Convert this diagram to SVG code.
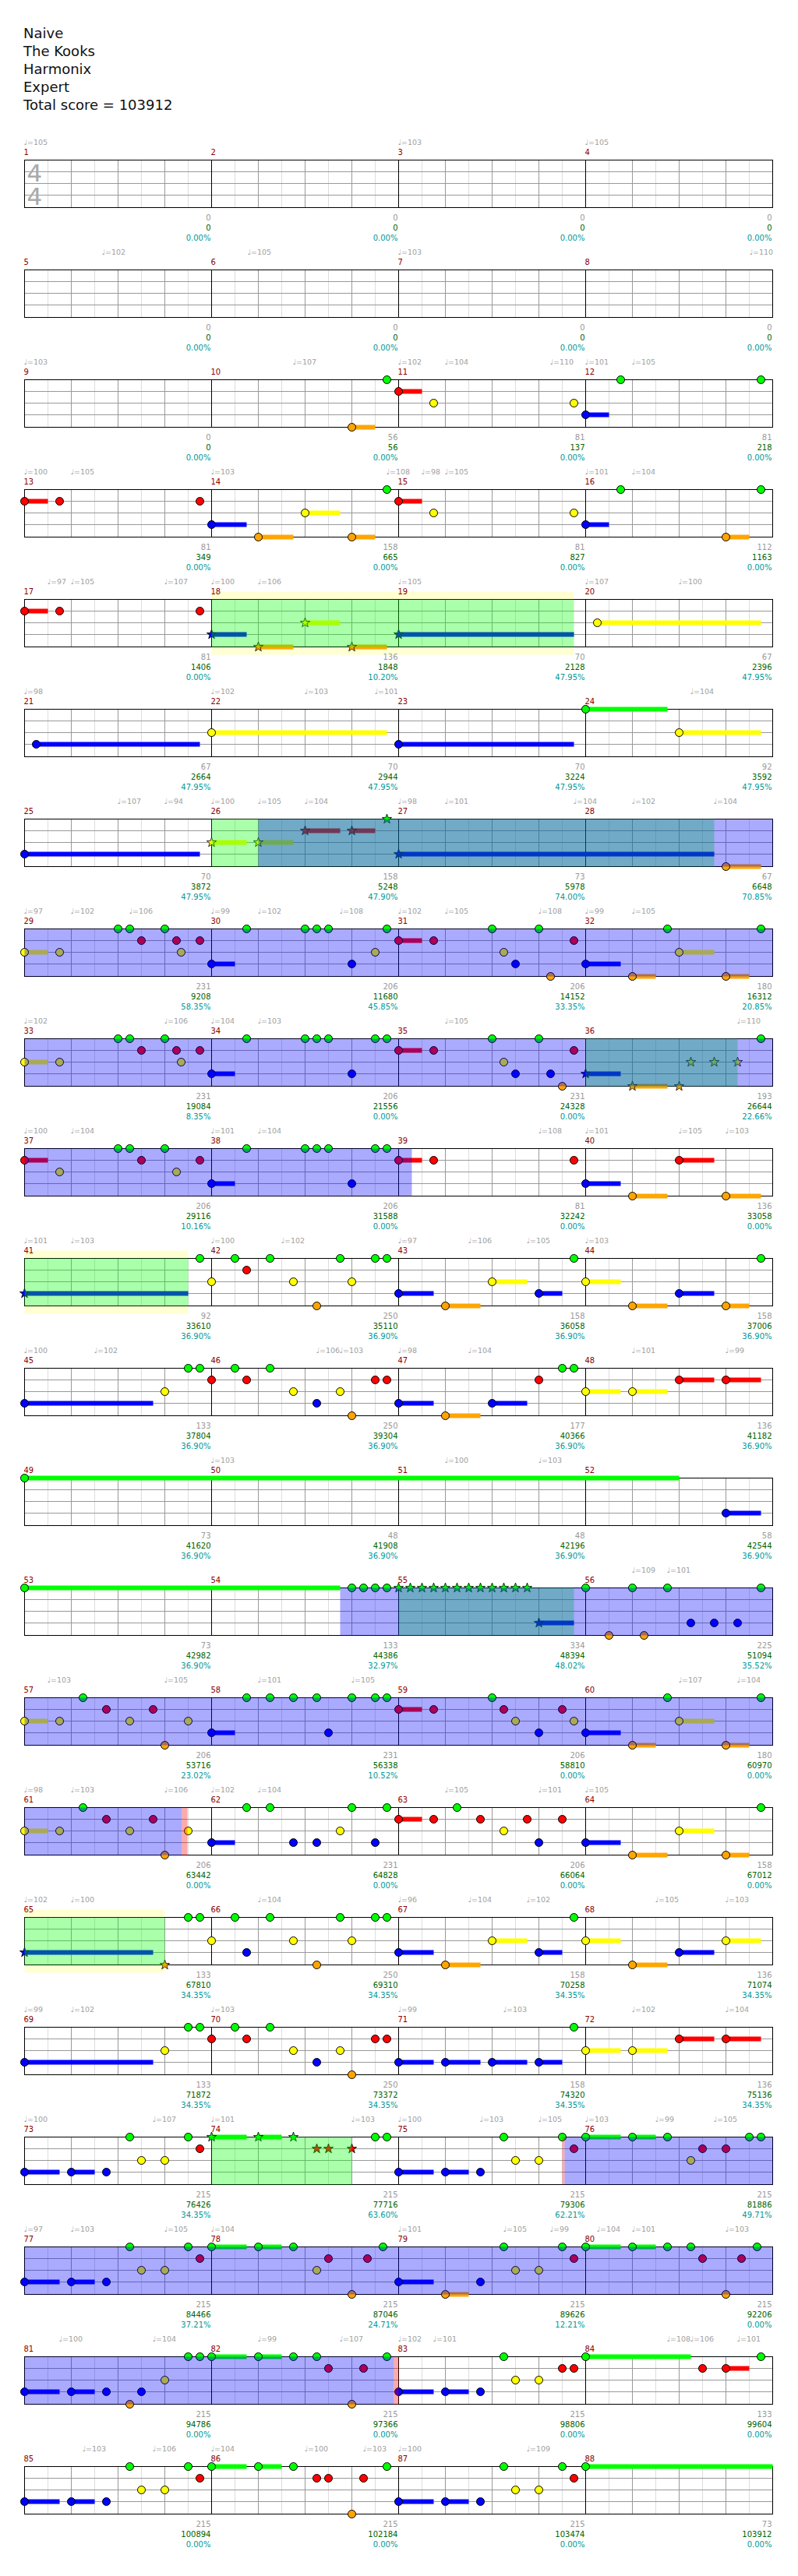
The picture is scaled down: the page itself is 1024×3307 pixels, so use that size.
<svg xmlns="http://www.w3.org/2000/svg" xmlns:xlink="http://www.w3.org/1999/xlink" width="1024" height="3307" viewBox="0 0 1024 3307">
<style>
.g{fill:#0f0}.r{fill:#f00}.y{fill:#ff0}.b{fill:#00f}.o{fill:#ffa500}
circle{stroke:#000;stroke-width:1}
.ov{fill:#00f;fill-opacity:.333}.sp{fill:#0f0;fill-opacity:.333}.ac{fill:#f00;fill-opacity:.333}.band{fill:#ffffd2}
text{font-family:"DejaVu Sans","Liberation Sans",sans-serif}
.t{font-size:18px;fill:#111}
.mn{font-size:10px;fill:#8b0000}
.tp{font-size:9.5px;fill:#a0a0a0}
.s1,.s2,.s3{font-size:10px;text-anchor:end}
.s1{fill:#999}.s2{fill:#006400}.s3{fill:#009999}
.ts{font-size:31px;fill:#aaa}
</style>
<defs>
<g id="staff">
<rect x="31" y="0" width="960" height="61" fill="#fff"/>
<path d="M61 0V61M121 0V61M181 0V61M241 0V61M301 0V61M361 0V61M421 0V61M481 0V61M541 0V61M601 0V61M661 0V61M721 0V61M781 0V61M841 0V61M901 0V61M961 0V61" stroke="#ddd"/>
<path d="M91 0V61M151 0V61M211 0V61M331 0V61M391 0V61M451 0V61M571 0V61M631 0V61M691 0V61M811 0V61M871 0V61M931 0V61M31 15H991M31 30H991M31 45H991" stroke="#999"/>
<path d="M271 0V61M511 0V61M751 0V61" stroke="#000"/>
<rect x="31" y="0" width="960" height="61" fill="none" stroke="#000"/>
</g>
<polygon id="s" points="0,-6.5 1.53,-2.1 6.18,-2.01 2.47,0.8 3.82,5.26 0,2.6 -3.82,5.26 -2.47,0.8 -6.18,-2.01 -1.53,-2.1" stroke="#000" stroke-width="0.8"/>
</defs>
<rect width="1024" height="3307" fill="#fff"/>
<g id="title">
<text class="t" x="30" y="49">Naive</text>
<text class="t" x="30" y="72">The Kooks</text>
<text class="t" x="30" y="95">Harmonix</text>
<text class="t" x="30" y="118">Expert</text>
<text class="t" x="30" y="141">Total score = 103912</text>
</g>

<g id="row1" transform="translate(0.5,205.5)">
<use href="#staff"/>
<text class="ts" x="34" y="27">4</text><text class="ts" x="34" y="57">4</text>
<text class="mn" x="30" y="-7">1</text><text class="mn" x="270" y="-7">2</text><text class="mn" x="510" y="-7">3</text><text class="mn" x="750" y="-7">4</text>
<text class="tp" x="30" y="-20">♩=105</text><text class="tp" x="510" y="-20">♩=103</text><text class="tp" x="750" y="-20">♩=105</text>
<text class="s1" x="270" y="77">0</text><text class="s2" x="270" y="90">0</text><text class="s3" x="270" y="103">0.00%</text>
<text class="s1" x="510" y="77">0</text><text class="s2" x="510" y="90">0</text><text class="s3" x="510" y="103">0.00%</text>
<text class="s1" x="750" y="77">0</text><text class="s2" x="750" y="90">0</text><text class="s3" x="750" y="103">0.00%</text>
<text class="s1" x="990" y="77">0</text><text class="s2" x="990" y="90">0</text><text class="s3" x="990" y="103">0.00%</text>
</g>

<g id="row2" transform="translate(0.5,346.5)">
<use href="#staff"/>
<text class="mn" x="30" y="-7">5</text><text class="mn" x="270" y="-7">6</text><text class="mn" x="510" y="-7">7</text><text class="mn" x="750" y="-7">8</text>
<text class="tp" x="130" y="-20">♩=102</text><text class="tp" x="317" y="-20">♩=105</text><text class="tp" x="510" y="-20">♩=103</text><text class="tp" x="961" y="-20">♩=110</text>
<text class="s1" x="270" y="77">0</text><text class="s2" x="270" y="90">0</text><text class="s3" x="270" y="103">0.00%</text>
<text class="s1" x="510" y="77">0</text><text class="s2" x="510" y="90">0</text><text class="s3" x="510" y="103">0.00%</text>
<text class="s1" x="750" y="77">0</text><text class="s2" x="750" y="90">0</text><text class="s3" x="750" y="103">0.00%</text>
<text class="s1" x="990" y="77">0</text><text class="s2" x="990" y="90">0</text><text class="s3" x="990" y="103">0.00%</text>
</g>

<g id="row3" transform="translate(0.5,487.5)">
<use href="#staff"/>
<rect class="o" x="451" y="58" width="30" height="6"/><rect class="r" x="511" y="12" width="30" height="6"/><rect class="b" x="751" y="42" width="30" height="6"/>
<circle class="o" cx="451" cy="61" r="5"/><circle class="g" cx="496" cy="0" r="5"/><circle class="r" cx="511" cy="15" r="5"/><circle class="y" cx="556" cy="30" r="5"/><circle class="y" cx="736" cy="30" r="5"/><circle class="b" cx="751" cy="45" r="5"/><circle class="g" cx="796" cy="0" r="5"/><circle class="g" cx="976" cy="0" r="5"/>
<text class="mn" x="30" y="-7">9</text><text class="mn" x="270" y="-7">10</text><text class="mn" x="510" y="-7">11</text><text class="mn" x="750" y="-7">12</text>
<text class="tp" x="30" y="-20">♩=103</text><text class="tp" x="375" y="-20">♩=107</text><text class="tp" x="510" y="-20">♩=102</text><text class="tp" x="570" y="-20">♩=104</text><text class="tp" x="705" y="-20">♩=110</text><text class="tp" x="750" y="-20">♩=101</text><text class="tp" x="810" y="-20">♩=105</text>
<text class="s1" x="270" y="77">0</text><text class="s2" x="270" y="90">0</text><text class="s3" x="270" y="103">0.00%</text>
<text class="s1" x="510" y="77">56</text><text class="s2" x="510" y="90">56</text><text class="s3" x="510" y="103">0.00%</text>
<text class="s1" x="750" y="77">81</text><text class="s2" x="750" y="90">137</text><text class="s3" x="750" y="103">0.00%</text>
<text class="s1" x="990" y="77">81</text><text class="s2" x="990" y="90">218</text><text class="s3" x="990" y="103">0.00%</text>
</g>

<g id="row4" transform="translate(0.5,628.5)">
<use href="#staff"/>
<rect class="r" x="31" y="12" width="30" height="6"/><rect class="b" x="271" y="42" width="45" height="6"/><rect class="o" x="331" y="58" width="45" height="6"/><rect class="y" x="391" y="27" width="45" height="6"/><rect class="o" x="451" y="58" width="30" height="6"/><rect class="r" x="511" y="12" width="30" height="6"/><rect class="b" x="751" y="42" width="30" height="6"/><rect class="o" x="931" y="58" width="30" height="6"/>
<circle class="r" cx="31" cy="15" r="5"/><circle class="r" cx="76" cy="15" r="5"/><circle class="r" cx="256" cy="15" r="5"/><circle class="b" cx="271" cy="45" r="5"/><circle class="o" cx="331" cy="61" r="5"/><circle class="y" cx="391" cy="30" r="5"/><circle class="o" cx="451" cy="61" r="5"/><circle class="g" cx="496" cy="0" r="5"/><circle class="r" cx="511" cy="15" r="5"/><circle class="y" cx="556" cy="30" r="5"/><circle class="y" cx="736" cy="30" r="5"/><circle class="b" cx="751" cy="45" r="5"/><circle class="g" cx="796" cy="0" r="5"/><circle class="o" cx="931" cy="61" r="5"/><circle class="g" cx="976" cy="0" r="5"/>
<text class="mn" x="30" y="-7">13</text><text class="mn" x="270" y="-7">14</text><text class="mn" x="510" y="-7">15</text><text class="mn" x="750" y="-7">16</text>
<text class="tp" x="30" y="-20">♩=100</text><text class="tp" x="90" y="-20">♩=105</text><text class="tp" x="270" y="-20">♩=103</text><text class="tp" x="495" y="-20">♩=108</text><text class="tp" x="540" y="-20">♩=98</text><text class="tp" x="570" y="-20">♩=105</text><text class="tp" x="750" y="-20">♩=101</text><text class="tp" x="810" y="-20">♩=104</text>
<text class="s1" x="270" y="77">81</text><text class="s2" x="270" y="90">349</text><text class="s3" x="270" y="103">0.00%</text>
<text class="s1" x="510" y="77">158</text><text class="s2" x="510" y="90">665</text><text class="s3" x="510" y="103">0.00%</text>
<text class="s1" x="750" y="77">81</text><text class="s2" x="750" y="90">827</text><text class="s3" x="750" y="103">0.00%</text>
<text class="s1" x="990" y="77">112</text><text class="s2" x="990" y="90">1163</text><text class="s3" x="990" y="103">0.00%</text>
</g>

<g id="row5" transform="translate(0.5,769.5)">
<rect class="band" x="271" y="-10" width="465" height="81"/>
<use href="#staff"/>
<rect class="r" x="31" y="12" width="30" height="6"/><rect class="b" x="271" y="42" width="45" height="6"/><rect class="o" x="331" y="58" width="45" height="6"/><rect class="y" x="391" y="27" width="45" height="6"/><rect class="o" x="451" y="58" width="45" height="6"/><rect class="b" x="511" y="42" width="225" height="6"/><rect class="y" x="766" y="27" width="210" height="6"/>
<circle class="r" cx="31" cy="15" r="5"/><circle class="r" cx="76" cy="15" r="5"/><circle class="r" cx="256" cy="15" r="5"/>
<use href="#s" class="b" x="271" y="45"/><use href="#s" class="o" x="331" y="61"/><use href="#s" class="y" x="391" y="30"/><use href="#s" class="o" x="451" y="61"/><use href="#s" class="b" x="511" y="45"/>
<circle class="y" cx="766" cy="30" r="5"/>
<rect class="sp" x="271" y="0" width="465" height="61"/>
<text class="mn" x="30" y="-7">17</text><text class="mn" x="270" y="-7">18</text><text class="mn" x="510" y="-7">19</text><text class="mn" x="750" y="-7">20</text>
<text class="tp" x="60" y="-20">♩=97</text><text class="tp" x="90" y="-20">♩=105</text><text class="tp" x="210" y="-20">♩=107</text><text class="tp" x="270" y="-20">♩=100</text><text class="tp" x="330" y="-20">♩=106</text><text class="tp" x="510" y="-20">♩=105</text><text class="tp" x="750" y="-20">♩=107</text><text class="tp" x="870" y="-20">♩=100</text>
<text class="s1" x="270" y="77">81</text><text class="s2" x="270" y="90">1406</text><text class="s3" x="270" y="103">0.00%</text>
<text class="s1" x="510" y="77">136</text><text class="s2" x="510" y="90">1848</text><text class="s3" x="510" y="103">10.20%</text>
<text class="s1" x="750" y="77">70</text><text class="s2" x="750" y="90">2128</text><text class="s3" x="750" y="103">47.95%</text>
<text class="s1" x="990" y="77">67</text><text class="s2" x="990" y="90">2396</text><text class="s3" x="990" y="103">47.95%</text>
</g>

<g id="row6" transform="translate(0.5,910.5)">
<use href="#staff"/>
<rect class="b" x="46" y="42" width="210" height="6"/><rect class="y" x="271" y="27" width="225" height="6"/><rect class="b" x="511" y="42" width="225" height="6"/><rect class="g" x="751" y="-3" width="105" height="6"/><rect class="y" x="871" y="27" width="105" height="6"/>
<circle class="b" cx="46" cy="45" r="5"/><circle class="y" cx="271" cy="30" r="5"/><circle class="b" cx="511" cy="45" r="5"/><circle class="g" cx="751" cy="0" r="5"/><circle class="y" cx="871" cy="30" r="5"/>
<text class="mn" x="30" y="-7">21</text><text class="mn" x="270" y="-7">22</text><text class="mn" x="510" y="-7">23</text><text class="mn" x="750" y="-7">24</text>
<text class="tp" x="30" y="-20">♩=98</text><text class="tp" x="270" y="-20">♩=102</text><text class="tp" x="390" y="-20">♩=103</text><text class="tp" x="480" y="-20">♩=101</text><text class="tp" x="885" y="-20">♩=104</text>
<text class="s1" x="270" y="77">67</text><text class="s2" x="270" y="90">2664</text><text class="s3" x="270" y="103">47.95%</text>
<text class="s1" x="510" y="77">70</text><text class="s2" x="510" y="90">2944</text><text class="s3" x="510" y="103">47.95%</text>
<text class="s1" x="750" y="77">70</text><text class="s2" x="750" y="90">3224</text><text class="s3" x="750" y="103">47.95%</text>
<text class="s1" x="990" y="77">92</text><text class="s2" x="990" y="90">3592</text><text class="s3" x="990" y="103">47.95%</text>
</g>

<g id="row7" transform="translate(0.5,1051.5)">
<use href="#staff"/>
<rect class="b" x="31" y="42" width="225" height="6"/><rect class="y" x="271" y="27" width="45" height="6"/><rect class="y" x="331" y="27" width="45" height="6"/><rect class="r" x="391" y="12" width="45" height="6"/><rect class="r" x="451" y="12" width="30" height="6"/><rect class="b" x="511" y="42" width="405" height="6"/><rect class="o" x="931" y="58" width="45" height="6"/>
<circle class="b" cx="31" cy="45" r="5"/>
<use href="#s" class="y" x="271" y="30"/><use href="#s" class="y" x="331" y="30"/><use href="#s" class="r" x="391" y="15"/><use href="#s" class="r" x="451" y="15"/><use href="#s" class="g" x="496" y="0"/><use href="#s" class="b" x="511" y="45"/>
<circle class="o" cx="931" cy="61" r="5"/>
<rect class="sp" x="271" y="0" width="645" height="61"/><rect class="ov" x="331" y="0" width="660" height="61"/>
<text class="mn" x="30" y="-7">25</text><text class="mn" x="270" y="-7">26</text><text class="mn" x="510" y="-7">27</text><text class="mn" x="750" y="-7">28</text>
<text class="tp" x="150" y="-20">♩=107</text><text class="tp" x="210" y="-20">♩=94</text><text class="tp" x="270" y="-20">♩=100</text><text class="tp" x="330" y="-20">♩=105</text><text class="tp" x="390" y="-20">♩=104</text><text class="tp" x="510" y="-20">♩=98</text><text class="tp" x="570" y="-20">♩=101</text><text class="tp" x="735" y="-20">♩=104</text><text class="tp" x="810" y="-20">♩=102</text><text class="tp" x="915" y="-20">♩=104</text>
<text class="s1" x="270" y="77">70</text><text class="s2" x="270" y="90">3872</text><text class="s3" x="270" y="103">47.95%</text>
<text class="s1" x="510" y="77">158</text><text class="s2" x="510" y="90">5248</text><text class="s3" x="510" y="103">47.90%</text>
<text class="s1" x="750" y="77">73</text><text class="s2" x="750" y="90">5978</text><text class="s3" x="750" y="103">74.00%</text>
<text class="s1" x="990" y="77">67</text><text class="s2" x="990" y="90">6648</text><text class="s3" x="990" y="103">70.85%</text>
</g>

<g id="row8" transform="translate(0.5,1192.5)">
<use href="#staff"/>
<rect class="y" x="31" y="27" width="30" height="6"/><rect class="r" x="511" y="12" width="30" height="6"/><rect class="y" x="871" y="27" width="45" height="6"/><rect class="b" x="271" y="42" width="30" height="6"/><rect class="b" x="751" y="42" width="45" height="6"/><rect class="o" x="811" y="58" width="30" height="6"/><rect class="o" x="931" y="58" width="30" height="6"/>
<circle class="g" cx="151" cy="0" r="5"/><circle class="g" cx="166" cy="0" r="5"/><circle class="g" cx="211" cy="0" r="5"/><circle class="g" cx="316" cy="0" r="5"/><circle class="g" cx="391" cy="0" r="5"/><circle class="g" cx="406" cy="0" r="5"/><circle class="g" cx="421" cy="0" r="5"/><circle class="g" cx="496" cy="0" r="5"/><circle class="g" cx="631" cy="0" r="5"/><circle class="g" cx="691" cy="0" r="5"/><circle class="g" cx="856" cy="0" r="5"/><circle class="g" cx="976" cy="0" r="5"/>
<circle class="r" cx="181" cy="15" r="5"/><circle class="r" cx="226" cy="15" r="5"/><circle class="r" cx="256" cy="15" r="5"/><circle class="r" cx="511" cy="15" r="5"/><circle class="r" cx="556" cy="15" r="5"/><circle class="r" cx="736" cy="15" r="5"/>
<circle class="y" cx="31" cy="30" r="5"/><circle class="y" cx="76" cy="30" r="5"/><circle class="y" cx="232" cy="30" r="5"/><circle class="y" cx="481" cy="30" r="5"/><circle class="y" cx="646" cy="30" r="5"/><circle class="y" cx="871" cy="30" r="5"/>
<circle class="b" cx="271" cy="45" r="5"/><circle class="b" cx="451" cy="45" r="5"/><circle class="b" cx="661" cy="45" r="5"/><circle class="b" cx="751" cy="45" r="5"/>
<circle class="o" cx="706" cy="61" r="5"/><circle class="o" cx="811" cy="61" r="5"/><circle class="o" cx="931" cy="61" r="5"/>
<rect class="ov" x="31" y="0" width="960" height="61"/>
<text class="mn" x="30" y="-7">29</text><text class="mn" x="270" y="-7">30</text><text class="mn" x="510" y="-7">31</text><text class="mn" x="750" y="-7">32</text>
<text class="tp" x="30" y="-20">♩=97</text><text class="tp" x="90" y="-20">♩=102</text><text class="tp" x="165" y="-20">♩=106</text><text class="tp" x="270" y="-20">♩=99</text><text class="tp" x="330" y="-20">♩=102</text><text class="tp" x="435" y="-20">♩=108</text><text class="tp" x="510" y="-20">♩=102</text><text class="tp" x="570" y="-20">♩=105</text><text class="tp" x="690" y="-20">♩=108</text><text class="tp" x="750" y="-20">♩=99</text><text class="tp" x="810" y="-20">♩=105</text>
<text class="s1" x="270" y="77">231</text><text class="s2" x="270" y="90">9208</text><text class="s3" x="270" y="103">58.35%</text>
<text class="s1" x="510" y="77">206</text><text class="s2" x="510" y="90">11680</text><text class="s3" x="510" y="103">45.85%</text>
<text class="s1" x="750" y="77">206</text><text class="s2" x="750" y="90">14152</text><text class="s3" x="750" y="103">33.35%</text>
<text class="s1" x="990" y="77">180</text><text class="s2" x="990" y="90">16312</text><text class="s3" x="990" y="103">20.85%</text>
</g>

<g id="row9" transform="translate(0.5,1333.5)">
<use href="#staff"/>
<rect class="y" x="31" y="27" width="30" height="6"/><rect class="r" x="511" y="12" width="30" height="6"/><rect class="b" x="271" y="42" width="30" height="6"/><rect class="b" x="751" y="42" width="45" height="6"/><rect class="o" x="811" y="58" width="45" height="6"/>
<circle class="g" cx="151" cy="0" r="5"/><circle class="g" cx="166" cy="0" r="5"/><circle class="g" cx="211" cy="0" r="5"/><circle class="g" cx="316" cy="0" r="5"/><circle class="g" cx="391" cy="0" r="5"/><circle class="g" cx="406" cy="0" r="5"/><circle class="g" cx="421" cy="0" r="5"/><circle class="g" cx="481" cy="0" r="5"/><circle class="g" cx="496" cy="0" r="5"/><circle class="g" cx="631" cy="0" r="5"/><circle class="g" cx="691" cy="0" r="5"/><circle class="g" cx="976" cy="0" r="5"/>
<circle class="r" cx="181" cy="15" r="5"/><circle class="r" cx="226" cy="15" r="5"/><circle class="r" cx="256" cy="15" r="5"/><circle class="r" cx="511" cy="15" r="5"/><circle class="r" cx="556" cy="15" r="5"/><circle class="r" cx="736" cy="15" r="5"/>
<circle class="y" cx="31" cy="30" r="5"/><circle class="y" cx="76" cy="30" r="5"/><circle class="y" cx="232" cy="30" r="5"/><circle class="y" cx="646" cy="30" r="5"/>
<circle class="b" cx="271" cy="45" r="5"/><circle class="b" cx="451" cy="45" r="5"/><circle class="b" cx="661" cy="45" r="5"/><circle class="b" cx="706" cy="45" r="5"/>
<circle class="o" cx="721" cy="61" r="5"/>
<use href="#s" class="y" x="886" y="30"/><use href="#s" class="y" x="916" y="30"/><use href="#s" class="y" x="946" y="30"/><use href="#s" class="b" x="751" y="45"/><use href="#s" class="o" x="811" y="61"/><use href="#s" class="o" x="871" y="61"/>
<rect class="sp" x="751" y="0" width="195" height="61"/><rect class="ov" x="31" y="0" width="960" height="61"/>
<text class="mn" x="30" y="-7">33</text><text class="mn" x="270" y="-7">34</text><text class="mn" x="510" y="-7">35</text><text class="mn" x="750" y="-7">36</text>
<text class="tp" x="30" y="-20">♩=102</text><text class="tp" x="210" y="-20">♩=106</text><text class="tp" x="270" y="-20">♩=104</text><text class="tp" x="330" y="-20">♩=103</text><text class="tp" x="570" y="-20">♩=105</text><text class="tp" x="945" y="-20">♩=110</text>
<text class="s1" x="270" y="77">231</text><text class="s2" x="270" y="90">19084</text><text class="s3" x="270" y="103">8.35%</text>
<text class="s1" x="510" y="77">206</text><text class="s2" x="510" y="90">21556</text><text class="s3" x="510" y="103">0.00%</text>
<text class="s1" x="750" y="77">231</text><text class="s2" x="750" y="90">24328</text><text class="s3" x="750" y="103">0.00%</text>
<text class="s1" x="990" y="77">193</text><text class="s2" x="990" y="90">26644</text><text class="s3" x="990" y="103">22.66%</text>
</g>

<g id="row10" transform="translate(0.5,1474.5)">
<use href="#staff"/>
<rect class="r" x="31" y="12" width="30" height="6"/><rect class="r" x="511" y="12" width="30" height="6"/><rect class="r" x="871" y="12" width="45" height="6"/><rect class="b" x="271" y="42" width="30" height="6"/><rect class="b" x="751" y="42" width="45" height="6"/><rect class="o" x="811" y="58" width="45" height="6"/><rect class="o" x="931" y="58" width="45" height="6"/>
<circle class="g" cx="151" cy="0" r="5"/><circle class="g" cx="166" cy="0" r="5"/><circle class="g" cx="211" cy="0" r="5"/><circle class="g" cx="316" cy="0" r="5"/><circle class="g" cx="391" cy="0" r="5"/><circle class="g" cx="406" cy="0" r="5"/><circle class="g" cx="421" cy="0" r="5"/><circle class="g" cx="481" cy="0" r="5"/><circle class="g" cx="496" cy="0" r="5"/>
<circle class="r" cx="31" cy="15" r="5"/><circle class="r" cx="181" cy="15" r="5"/><circle class="r" cx="256" cy="15" r="5"/><circle class="r" cx="511" cy="15" r="5"/><circle class="r" cx="556" cy="15" r="5"/><circle class="r" cx="736" cy="15" r="5"/><circle class="r" cx="871" cy="15" r="5"/>
<circle class="y" cx="76" cy="30" r="5"/><circle class="y" cx="226" cy="30" r="5"/>
<circle class="b" cx="271" cy="45" r="5"/><circle class="b" cx="451" cy="45" r="5"/><circle class="b" cx="751" cy="45" r="5"/>
<circle class="o" cx="811" cy="61" r="5"/><circle class="o" cx="931" cy="61" r="5"/>
<rect class="ov" x="31" y="0" width="497" height="61"/>
<text class="mn" x="30" y="-7">37</text><text class="mn" x="270" y="-7">38</text><text class="mn" x="510" y="-7">39</text><text class="mn" x="750" y="-7">40</text>
<text class="tp" x="30" y="-20">♩=100</text><text class="tp" x="90" y="-20">♩=104</text><text class="tp" x="270" y="-20">♩=101</text><text class="tp" x="330" y="-20">♩=104</text><text class="tp" x="690" y="-20">♩=108</text><text class="tp" x="750" y="-20">♩=101</text><text class="tp" x="870" y="-20">♩=105</text><text class="tp" x="930" y="-20">♩=103</text>
<text class="s1" x="270" y="77">206</text><text class="s2" x="270" y="90">29116</text><text class="s3" x="270" y="103">10.16%</text>
<text class="s1" x="510" y="77">206</text><text class="s2" x="510" y="90">31588</text><text class="s3" x="510" y="103">0.00%</text>
<text class="s1" x="750" y="77">81</text><text class="s2" x="750" y="90">32242</text><text class="s3" x="750" y="103">0.00%</text>
<text class="s1" x="990" y="77">136</text><text class="s2" x="990" y="90">33058</text><text class="s3" x="990" y="103">0.00%</text>
</g>

<g id="row11" transform="translate(0.5,1615.5)">
<rect class="band" x="31" y="-10" width="210" height="81"/>
<use href="#staff"/>
<rect class="b" x="31" y="42" width="210" height="6"/><rect class="y" x="631" y="27" width="45" height="6"/><rect class="y" x="751" y="27" width="45" height="6"/><rect class="b" x="511" y="42" width="45" height="6"/><rect class="b" x="691" y="42" width="30" height="6"/><rect class="b" x="871" y="42" width="45" height="6"/><rect class="o" x="571" y="58" width="45" height="6"/><rect class="o" x="811" y="58" width="45" height="6"/><rect class="o" x="931" y="58" width="30" height="6"/>
<use href="#s" class="b" x="31" y="45"/>
<circle class="g" cx="256" cy="0" r="5"/><circle class="g" cx="301" cy="0" r="5"/><circle class="g" cx="346" cy="0" r="5"/><circle class="g" cx="436" cy="0" r="5"/><circle class="g" cx="481" cy="0" r="5"/><circle class="g" cx="496" cy="0" r="5"/><circle class="g" cx="736" cy="0" r="5"/><circle class="g" cx="976" cy="0" r="5"/>
<circle class="r" cx="316" cy="15" r="5"/>
<circle class="y" cx="271" cy="30" r="5"/><circle class="y" cx="376" cy="30" r="5"/><circle class="y" cx="451" cy="30" r="5"/><circle class="y" cx="631" cy="30" r="5"/><circle class="y" cx="751" cy="30" r="5"/>
<circle class="b" cx="511" cy="45" r="5"/><circle class="b" cx="691" cy="45" r="5"/><circle class="b" cx="871" cy="45" r="5"/>
<circle class="o" cx="406" cy="61" r="5"/><circle class="o" cx="571" cy="61" r="5"/><circle class="o" cx="811" cy="61" r="5"/><circle class="o" cx="931" cy="61" r="5"/>
<rect class="sp" x="31" y="0" width="210" height="61"/>
<text class="mn" x="30" y="-7">41</text><text class="mn" x="270" y="-7">42</text><text class="mn" x="510" y="-7">43</text><text class="mn" x="750" y="-7">44</text>
<text class="tp" x="30" y="-20">♩=101</text><text class="tp" x="90" y="-20">♩=103</text><text class="tp" x="270" y="-20">♩=100</text><text class="tp" x="360" y="-20">♩=102</text><text class="tp" x="510" y="-20">♩=97</text><text class="tp" x="600" y="-20">♩=106</text><text class="tp" x="675" y="-20">♩=105</text><text class="tp" x="750" y="-20">♩=103</text>
<text class="s1" x="270" y="77">92</text><text class="s2" x="270" y="90">33610</text><text class="s3" x="270" y="103">36.90%</text>
<text class="s1" x="510" y="77">250</text><text class="s2" x="510" y="90">35110</text><text class="s3" x="510" y="103">36.90%</text>
<text class="s1" x="750" y="77">158</text><text class="s2" x="750" y="90">36058</text><text class="s3" x="750" y="103">36.90%</text>
<text class="s1" x="990" y="77">158</text><text class="s2" x="990" y="90">37006</text><text class="s3" x="990" y="103">36.90%</text>
</g>

<g id="row12" transform="translate(0.5,1756.5)">
<use href="#staff"/>
<rect class="r" x="871" y="12" width="45" height="6"/><rect class="r" x="931" y="12" width="45" height="6"/><rect class="y" x="751" y="27" width="45" height="6"/><rect class="y" x="811" y="27" width="45" height="6"/><rect class="b" x="31" y="42" width="165" height="6"/><rect class="b" x="511" y="42" width="45" height="6"/><rect class="b" x="631" y="42" width="45" height="6"/><rect class="o" x="571" y="58" width="45" height="6"/>
<circle class="g" cx="241" cy="0" r="5"/><circle class="g" cx="256" cy="0" r="5"/><circle class="g" cx="301" cy="0" r="5"/><circle class="g" cx="346" cy="0" r="5"/><circle class="g" cx="721" cy="0" r="5"/><circle class="g" cx="736" cy="0" r="5"/>
<circle class="r" cx="271" cy="15" r="5"/><circle class="r" cx="316" cy="15" r="5"/><circle class="r" cx="481" cy="15" r="5"/><circle class="r" cx="496" cy="15" r="5"/><circle class="r" cx="691" cy="15" r="5"/><circle class="r" cx="871" cy="15" r="5"/><circle class="r" cx="931" cy="15" r="5"/>
<circle class="y" cx="211" cy="30" r="5"/><circle class="y" cx="376" cy="30" r="5"/><circle class="y" cx="436" cy="30" r="5"/><circle class="y" cx="751" cy="30" r="5"/><circle class="y" cx="811" cy="30" r="5"/>
<circle class="b" cx="31" cy="45" r="5"/><circle class="b" cx="406" cy="45" r="5"/><circle class="b" cx="511" cy="45" r="5"/><circle class="b" cx="631" cy="45" r="5"/>
<circle class="o" cx="451" cy="61" r="5"/><circle class="o" cx="571" cy="61" r="5"/>
<text class="mn" x="30" y="-7">45</text><text class="mn" x="270" y="-7">46</text><text class="mn" x="510" y="-7">47</text><text class="mn" x="750" y="-7">48</text>
<text class="tp" x="30" y="-20">♩=100</text><text class="tp" x="120" y="-20">♩=102</text><text class="tp" x="405" y="-20">♩=106</text><text class="tp" x="435" y="-20">♩=103</text><text class="tp" x="510" y="-20">♩=98</text><text class="tp" x="600" y="-20">♩=104</text><text class="tp" x="810" y="-20">♩=101</text><text class="tp" x="930" y="-20">♩=99</text>
<text class="s1" x="270" y="77">133</text><text class="s2" x="270" y="90">37804</text><text class="s3" x="270" y="103">36.90%</text>
<text class="s1" x="510" y="77">250</text><text class="s2" x="510" y="90">39304</text><text class="s3" x="510" y="103">36.90%</text>
<text class="s1" x="750" y="77">177</text><text class="s2" x="750" y="90">40366</text><text class="s3" x="750" y="103">36.90%</text>
<text class="s1" x="990" y="77">136</text><text class="s2" x="990" y="90">41182</text><text class="s3" x="990" y="103">36.90%</text>
</g>

<g id="row13" transform="translate(0.5,1897.5)">
<use href="#staff"/>
<rect class="g" x="31" y="-3" width="840" height="6"/><rect class="b" x="931" y="42" width="45" height="6"/>
<circle class="g" cx="31" cy="0" r="5"/><circle class="b" cx="931" cy="45" r="5"/>
<text class="mn" x="30" y="-7">49</text><text class="mn" x="270" y="-7">50</text><text class="mn" x="510" y="-7">51</text><text class="mn" x="750" y="-7">52</text>
<text class="tp" x="270" y="-20">♩=103</text><text class="tp" x="570" y="-20">♩=100</text><text class="tp" x="690" y="-20">♩=103</text>
<text class="s1" x="270" y="77">73</text><text class="s2" x="270" y="90">41620</text><text class="s3" x="270" y="103">36.90%</text>
<text class="s1" x="510" y="77">48</text><text class="s2" x="510" y="90">41908</text><text class="s3" x="510" y="103">36.90%</text>
<text class="s1" x="750" y="77">48</text><text class="s2" x="750" y="90">42196</text><text class="s3" x="750" y="103">36.90%</text>
<text class="s1" x="990" y="77">58</text><text class="s2" x="990" y="90">42544</text><text class="s3" x="990" y="103">36.90%</text>
</g>

<g id="row14" transform="translate(0.5,2038.5)">
<use href="#staff"/>
<rect class="g" x="31" y="-3" width="405" height="6"/><rect class="b" x="691" y="42" width="45" height="6"/>
<circle class="g" cx="31" cy="0" r="5"/><circle class="g" cx="451" cy="0" r="5"/><circle class="g" cx="466" cy="0" r="5"/><circle class="g" cx="481" cy="0" r="5"/><circle class="g" cx="496" cy="0" r="5"/><circle class="g" cx="751" cy="0" r="5"/><circle class="g" cx="811" cy="0" r="5"/><circle class="g" cx="856" cy="0" r="5"/><circle class="g" cx="976" cy="0" r="5"/>
<use href="#s" class="g" x="511" y="0"/><use href="#s" class="g" x="526" y="0"/><use href="#s" class="g" x="541" y="0"/><use href="#s" class="g" x="556" y="0"/><use href="#s" class="g" x="571" y="0"/><use href="#s" class="g" x="586" y="0"/><use href="#s" class="g" x="601" y="0"/><use href="#s" class="g" x="616" y="0"/><use href="#s" class="g" x="631" y="0"/><use href="#s" class="g" x="646" y="0"/><use href="#s" class="g" x="661" y="0"/><use href="#s" class="g" x="676" y="0"/>
<use href="#s" class="b" x="691" y="45"/>
<circle class="b" cx="886" cy="45" r="5"/><circle class="b" cx="916" cy="45" r="5"/><circle class="b" cx="946" cy="45" r="5"/>
<circle class="o" cx="781" cy="61" r="5"/><circle class="o" cx="826" cy="61" r="5"/>
<rect class="sp" x="511" y="0" width="225" height="61"/><rect class="ov" x="436" y="0" width="555" height="61"/>
<text class="mn" x="30" y="-7">53</text><text class="mn" x="270" y="-7">54</text><text class="mn" x="510" y="-7">55</text><text class="mn" x="750" y="-7">56</text>
<text class="tp" x="810" y="-20">♩=109</text><text class="tp" x="855" y="-20">♩=101</text>
<text class="s1" x="270" y="77">73</text><text class="s2" x="270" y="90">42982</text><text class="s3" x="270" y="103">36.90%</text>
<text class="s1" x="510" y="77">133</text><text class="s2" x="510" y="90">44386</text><text class="s3" x="510" y="103">32.97%</text>
<text class="s1" x="750" y="77">334</text><text class="s2" x="750" y="90">48394</text><text class="s3" x="750" y="103">48.02%</text>
<text class="s1" x="990" y="77">225</text><text class="s2" x="990" y="90">51094</text><text class="s3" x="990" y="103">35.52%</text>
</g>

<g id="row15" transform="translate(0.5,2179.5)">
<use href="#staff"/>
<rect class="r" x="511" y="12" width="30" height="6"/><rect class="y" x="31" y="27" width="30" height="6"/><rect class="y" x="871" y="27" width="45" height="6"/><rect class="b" x="271" y="42" width="30" height="6"/><rect class="b" x="751" y="42" width="45" height="6"/><rect class="o" x="811" y="58" width="30" height="6"/><rect class="o" x="931" y="58" width="30" height="6"/>
<circle class="g" cx="106" cy="0" r="5"/><circle class="g" cx="316" cy="0" r="5"/><circle class="g" cx="346" cy="0" r="5"/><circle class="g" cx="376" cy="0" r="5"/><circle class="g" cx="406" cy="0" r="5"/><circle class="g" cx="451" cy="0" r="5"/><circle class="g" cx="481" cy="0" r="5"/><circle class="g" cx="496" cy="0" r="5"/><circle class="g" cx="631" cy="0" r="5"/><circle class="g" cx="856" cy="0" r="5"/><circle class="g" cx="976" cy="0" r="5"/>
<circle class="r" cx="136" cy="15" r="5"/><circle class="r" cx="196" cy="15" r="5"/><circle class="r" cx="511" cy="15" r="5"/><circle class="r" cx="556" cy="15" r="5"/><circle class="r" cx="646" cy="15" r="5"/><circle class="r" cx="721" cy="15" r="5"/>
<circle class="y" cx="31" cy="30" r="5"/><circle class="y" cx="76" cy="30" r="5"/><circle class="y" cx="166" cy="30" r="5"/><circle class="y" cx="241" cy="30" r="5"/><circle class="y" cx="661" cy="30" r="5"/><circle class="y" cx="736" cy="30" r="5"/><circle class="y" cx="871" cy="30" r="5"/>
<circle class="b" cx="271" cy="45" r="5"/><circle class="b" cx="421" cy="45" r="5"/><circle class="b" cx="691" cy="45" r="5"/><circle class="b" cx="751" cy="45" r="5"/>
<circle class="o" cx="211" cy="61" r="5"/><circle class="o" cx="811" cy="61" r="5"/><circle class="o" cx="931" cy="61" r="5"/>
<rect class="ov" x="31" y="0" width="960" height="61"/>
<text class="mn" x="30" y="-7">57</text><text class="mn" x="270" y="-7">58</text><text class="mn" x="510" y="-7">59</text><text class="mn" x="750" y="-7">60</text>
<text class="tp" x="60" y="-20">♩=103</text><text class="tp" x="210" y="-20">♩=105</text><text class="tp" x="330" y="-20">♩=101</text><text class="tp" x="450" y="-20">♩=105</text><text class="tp" x="870" y="-20">♩=107</text><text class="tp" x="945" y="-20">♩=104</text>
<text class="s1" x="270" y="77">206</text><text class="s2" x="270" y="90">53716</text><text class="s3" x="270" y="103">23.02%</text>
<text class="s1" x="510" y="77">231</text><text class="s2" x="510" y="90">56338</text><text class="s3" x="510" y="103">10.52%</text>
<text class="s1" x="750" y="77">206</text><text class="s2" x="750" y="90">58810</text><text class="s3" x="750" y="103">0.00%</text>
<text class="s1" x="990" y="77">180</text><text class="s2" x="990" y="90">60970</text><text class="s3" x="990" y="103">0.00%</text>
</g>

<g id="row16" transform="translate(0.5,2320.5)">
<use href="#staff"/>
<rect class="r" x="511" y="12" width="30" height="6"/><rect class="y" x="31" y="27" width="30" height="6"/><rect class="y" x="871" y="27" width="45" height="6"/><rect class="b" x="271" y="42" width="30" height="6"/><rect class="b" x="751" y="42" width="45" height="6"/><rect class="o" x="811" y="58" width="45" height="6"/><rect class="o" x="931" y="58" width="30" height="6"/>
<circle class="g" cx="106" cy="0" r="5"/><circle class="g" cx="316" cy="0" r="5"/><circle class="g" cx="346" cy="0" r="5"/><circle class="g" cx="451" cy="0" r="5"/><circle class="g" cx="496" cy="0" r="5"/><circle class="g" cx="586" cy="0" r="5"/><circle class="g" cx="976" cy="0" r="5"/>
<circle class="r" cx="136" cy="15" r="5"/><circle class="r" cx="196" cy="15" r="5"/><circle class="r" cx="511" cy="15" r="5"/><circle class="r" cx="556" cy="15" r="5"/><circle class="r" cx="616" cy="15" r="5"/><circle class="r" cx="676" cy="15" r="5"/><circle class="r" cx="721" cy="15" r="5"/>
<circle class="y" cx="31" cy="30" r="5"/><circle class="y" cx="76" cy="30" r="5"/><circle class="y" cx="166" cy="30" r="5"/><circle class="y" cx="241" cy="30" r="5"/><circle class="y" cx="436" cy="30" r="5"/><circle class="y" cx="646" cy="30" r="5"/><circle class="y" cx="871" cy="30" r="5"/>
<circle class="b" cx="271" cy="45" r="5"/><circle class="b" cx="376" cy="45" r="5"/><circle class="b" cx="406" cy="45" r="5"/><circle class="b" cx="481" cy="45" r="5"/><circle class="b" cx="691" cy="45" r="5"/><circle class="b" cx="751" cy="45" r="5"/>
<circle class="o" cx="211" cy="61" r="5"/><circle class="o" cx="811" cy="61" r="5"/><circle class="o" cx="931" cy="61" r="5"/>
<rect class="ov" x="31" y="0" width="202" height="61"/><rect class="ac" x="233" y="0" width="7" height="61"/>
<text class="mn" x="30" y="-7">61</text><text class="mn" x="270" y="-7">62</text><text class="mn" x="510" y="-7">63</text><text class="mn" x="750" y="-7">64</text>
<text class="tp" x="30" y="-20">♩=98</text><text class="tp" x="90" y="-20">♩=103</text><text class="tp" x="210" y="-20">♩=106</text><text class="tp" x="270" y="-20">♩=102</text><text class="tp" x="330" y="-20">♩=104</text><text class="tp" x="570" y="-20">♩=105</text><text class="tp" x="690" y="-20">♩=101</text><text class="tp" x="750" y="-20">♩=105</text>
<text class="s1" x="270" y="77">206</text><text class="s2" x="270" y="90">63442</text><text class="s3" x="270" y="103">0.00%</text>
<text class="s1" x="510" y="77">231</text><text class="s2" x="510" y="90">64828</text><text class="s3" x="510" y="103">0.00%</text>
<text class="s1" x="750" y="77">206</text><text class="s2" x="750" y="90">66064</text><text class="s3" x="750" y="103">0.00%</text>
<text class="s1" x="990" y="77">158</text><text class="s2" x="990" y="90">67012</text><text class="s3" x="990" y="103">0.00%</text>
</g>

<g id="row17" transform="translate(0.5,2461.5)">
<rect class="band" x="31" y="-10" width="180" height="81"/>
<use href="#staff"/>
<rect class="b" x="31" y="42" width="165" height="6"/><rect class="y" x="631" y="27" width="45" height="6"/><rect class="y" x="751" y="27" width="45" height="6"/><rect class="y" x="931" y="27" width="45" height="6"/><rect class="b" x="511" y="42" width="45" height="6"/><rect class="b" x="691" y="42" width="30" height="6"/><rect class="b" x="871" y="42" width="45" height="6"/><rect class="o" x="571" y="58" width="45" height="6"/><rect class="o" x="811" y="58" width="45" height="6"/>
<use href="#s" class="b" x="31" y="45"/><use href="#s" class="o" x="211" y="61"/>
<circle class="g" cx="241" cy="0" r="5"/><circle class="g" cx="256" cy="0" r="5"/><circle class="g" cx="301" cy="0" r="5"/><circle class="g" cx="346" cy="0" r="5"/><circle class="g" cx="436" cy="0" r="5"/><circle class="g" cx="481" cy="0" r="5"/><circle class="g" cx="496" cy="0" r="5"/><circle class="g" cx="736" cy="0" r="5"/>
<circle class="y" cx="271" cy="30" r="5"/><circle class="y" cx="376" cy="30" r="5"/><circle class="y" cx="451" cy="30" r="5"/><circle class="y" cx="631" cy="30" r="5"/><circle class="y" cx="751" cy="30" r="5"/><circle class="y" cx="931" cy="30" r="5"/>
<circle class="b" cx="316" cy="45" r="5"/><circle class="b" cx="511" cy="45" r="5"/><circle class="b" cx="691" cy="45" r="5"/><circle class="b" cx="871" cy="45" r="5"/>
<circle class="o" cx="406" cy="61" r="5"/><circle class="o" cx="571" cy="61" r="5"/><circle class="o" cx="811" cy="61" r="5"/>
<rect class="sp" x="31" y="0" width="180" height="61"/>
<text class="mn" x="30" y="-7">65</text><text class="mn" x="270" y="-7">66</text><text class="mn" x="510" y="-7">67</text><text class="mn" x="750" y="-7">68</text>
<text class="tp" x="30" y="-20">♩=102</text><text class="tp" x="90" y="-20">♩=100</text><text class="tp" x="330" y="-20">♩=104</text><text class="tp" x="510" y="-20">♩=96</text><text class="tp" x="600" y="-20">♩=104</text><text class="tp" x="675" y="-20">♩=102</text><text class="tp" x="840" y="-20">♩=105</text><text class="tp" x="930" y="-20">♩=103</text>
<text class="s1" x="270" y="77">133</text><text class="s2" x="270" y="90">67810</text><text class="s3" x="270" y="103">34.35%</text>
<text class="s1" x="510" y="77">250</text><text class="s2" x="510" y="90">69310</text><text class="s3" x="510" y="103">34.35%</text>
<text class="s1" x="750" y="77">158</text><text class="s2" x="750" y="90">70258</text><text class="s3" x="750" y="103">34.35%</text>
<text class="s1" x="990" y="77">136</text><text class="s2" x="990" y="90">71074</text><text class="s3" x="990" y="103">34.35%</text>
</g>

<g id="row18" transform="translate(0.5,2602.5)">
<use href="#staff"/>
<rect class="r" x="871" y="12" width="45" height="6"/><rect class="r" x="931" y="12" width="45" height="6"/><rect class="y" x="751" y="27" width="45" height="6"/><rect class="y" x="811" y="27" width="45" height="6"/><rect class="b" x="31" y="42" width="165" height="6"/><rect class="b" x="511" y="42" width="45" height="6"/><rect class="b" x="571" y="42" width="45" height="6"/><rect class="b" x="631" y="42" width="45" height="6"/><rect class="b" x="691" y="42" width="30" height="6"/>
<circle class="g" cx="241" cy="0" r="5"/><circle class="g" cx="256" cy="0" r="5"/><circle class="g" cx="301" cy="0" r="5"/><circle class="g" cx="346" cy="0" r="5"/><circle class="g" cx="736" cy="0" r="5"/>
<circle class="r" cx="271" cy="15" r="5"/><circle class="r" cx="316" cy="15" r="5"/><circle class="r" cx="481" cy="15" r="5"/><circle class="r" cx="496" cy="15" r="5"/><circle class="r" cx="871" cy="15" r="5"/><circle class="r" cx="931" cy="15" r="5"/>
<circle class="y" cx="211" cy="30" r="5"/><circle class="y" cx="376" cy="30" r="5"/><circle class="y" cx="436" cy="30" r="5"/><circle class="y" cx="751" cy="30" r="5"/><circle class="y" cx="811" cy="30" r="5"/>
<circle class="b" cx="31" cy="45" r="5"/><circle class="b" cx="406" cy="45" r="5"/><circle class="b" cx="511" cy="45" r="5"/><circle class="b" cx="571" cy="45" r="5"/><circle class="b" cx="631" cy="45" r="5"/><circle class="b" cx="691" cy="45" r="5"/>
<circle class="o" cx="451" cy="61" r="5"/>
<text class="mn" x="30" y="-7">69</text><text class="mn" x="270" y="-7">70</text><text class="mn" x="510" y="-7">71</text><text class="mn" x="750" y="-7">72</text>
<text class="tp" x="30" y="-20">♩=99</text><text class="tp" x="90" y="-20">♩=102</text><text class="tp" x="270" y="-20">♩=103</text><text class="tp" x="510" y="-20">♩=99</text><text class="tp" x="645" y="-20">♩=103</text><text class="tp" x="810" y="-20">♩=102</text><text class="tp" x="930" y="-20">♩=104</text>
<text class="s1" x="270" y="77">133</text><text class="s2" x="270" y="90">71872</text><text class="s3" x="270" y="103">34.35%</text>
<text class="s1" x="510" y="77">250</text><text class="s2" x="510" y="90">73372</text><text class="s3" x="510" y="103">34.35%</text>
<text class="s1" x="750" y="77">158</text><text class="s2" x="750" y="90">74320</text><text class="s3" x="750" y="103">34.35%</text>
<text class="s1" x="990" y="77">136</text><text class="s2" x="990" y="90">75136</text><text class="s3" x="990" y="103">34.35%</text>
</g>

<g id="row19" transform="translate(0.5,2743.5)">
<use href="#staff"/>
<rect class="g" x="271" y="-3" width="45" height="6"/><rect class="g" x="331" y="-3" width="30" height="6"/><rect class="g" x="751" y="-3" width="45" height="6"/><rect class="g" x="811" y="-3" width="30" height="6"/><rect class="b" x="31" y="42" width="45" height="6"/><rect class="b" x="91" y="42" width="30" height="6"/><rect class="b" x="511" y="42" width="45" height="6"/><rect class="b" x="571" y="42" width="30" height="6"/>
<circle class="g" cx="166" cy="0" r="5"/><circle class="g" cx="241" cy="0" r="5"/><circle class="g" cx="481" cy="0" r="5"/><circle class="g" cx="496" cy="0" r="5"/><circle class="g" cx="646" cy="0" r="5"/><circle class="g" cx="721" cy="0" r="5"/><circle class="g" cx="751" cy="0" r="5"/><circle class="g" cx="811" cy="0" r="5"/><circle class="g" cx="856" cy="0" r="5"/><circle class="g" cx="961" cy="0" r="5"/><circle class="g" cx="976" cy="0" r="5"/>
<use href="#s" class="g" x="271" y="0"/><use href="#s" class="g" x="331" y="0"/><use href="#s" class="g" x="376" y="0"/><use href="#s" class="r" x="406" y="15"/><use href="#s" class="r" x="421" y="15"/><use href="#s" class="r" x="451" y="15"/>
<circle class="r" cx="256" cy="15" r="5"/><circle class="r" cx="736" cy="15" r="5"/><circle class="r" cx="901" cy="15" r="5"/><circle class="r" cx="931" cy="15" r="5"/>
<circle class="y" cx="181" cy="30" r="5"/><circle class="y" cx="211" cy="30" r="5"/><circle class="y" cx="661" cy="30" r="5"/><circle class="y" cx="691" cy="30" r="5"/><circle class="y" cx="886" cy="30" r="5"/>
<circle class="b" cx="31" cy="45" r="5"/><circle class="b" cx="91" cy="45" r="5"/><circle class="b" cx="136" cy="45" r="5"/><circle class="b" cx="511" cy="45" r="5"/><circle class="b" cx="571" cy="45" r="5"/><circle class="b" cx="616" cy="45" r="5"/>
<rect class="sp" x="271" y="0" width="180" height="61"/><rect class="ac" x="721" y="0" width="3" height="61"/><rect class="ov" x="724" y="0" width="267" height="61"/>
<text class="mn" x="30" y="-7">73</text><text class="mn" x="270" y="-7">74</text><text class="mn" x="510" y="-7">75</text><text class="mn" x="750" y="-7">76</text>
<text class="tp" x="30" y="-20">♩=100</text><text class="tp" x="195" y="-20">♩=107</text><text class="tp" x="270" y="-20">♩=101</text><text class="tp" x="450" y="-20">♩=103</text><text class="tp" x="510" y="-20">♩=100</text><text class="tp" x="615" y="-20">♩=103</text><text class="tp" x="690" y="-20">♩=105</text><text class="tp" x="750" y="-20">♩=103</text><text class="tp" x="840" y="-20">♩=99</text><text class="tp" x="915" y="-20">♩=105</text>
<text class="s1" x="270" y="77">215</text><text class="s2" x="270" y="90">76426</text><text class="s3" x="270" y="103">34.35%</text>
<text class="s1" x="510" y="77">215</text><text class="s2" x="510" y="90">77716</text><text class="s3" x="510" y="103">63.60%</text>
<text class="s1" x="750" y="77">215</text><text class="s2" x="750" y="90">79306</text><text class="s3" x="750" y="103">62.21%</text>
<text class="s1" x="990" y="77">215</text><text class="s2" x="990" y="90">81886</text><text class="s3" x="990" y="103">49.71%</text>
</g>

<g id="row20" transform="translate(0.5,2884.5)">
<use href="#staff"/>
<rect class="g" x="271" y="-3" width="45" height="6"/><rect class="g" x="331" y="-3" width="30" height="6"/><rect class="g" x="751" y="-3" width="45" height="6"/><rect class="g" x="811" y="-3" width="30" height="6"/><rect class="b" x="31" y="42" width="45" height="6"/><rect class="b" x="91" y="42" width="30" height="6"/><rect class="b" x="511" y="42" width="45" height="6"/><rect class="o" x="571" y="58" width="30" height="6"/>
<circle class="g" cx="166" cy="0" r="5"/><circle class="g" cx="241" cy="0" r="5"/><circle class="g" cx="271" cy="0" r="5"/><circle class="g" cx="331" cy="0" r="5"/><circle class="g" cx="376" cy="0" r="5"/><circle class="g" cx="491" cy="0" r="5"/><circle class="g" cx="646" cy="0" r="5"/><circle class="g" cx="721" cy="0" r="5"/><circle class="g" cx="751" cy="0" r="5"/><circle class="g" cx="811" cy="0" r="5"/><circle class="g" cx="856" cy="0" r="5"/><circle class="g" cx="886" cy="0" r="5"/><circle class="g" cx="971" cy="0" r="5"/>
<circle class="r" cx="256" cy="15" r="5"/><circle class="r" cx="421" cy="15" r="5"/><circle class="r" cx="471" cy="15" r="5"/><circle class="r" cx="736" cy="15" r="5"/><circle class="r" cx="901" cy="15" r="5"/><circle class="r" cx="951" cy="15" r="5"/>
<circle class="y" cx="181" cy="30" r="5"/><circle class="y" cx="211" cy="30" r="5"/><circle class="y" cx="406" cy="30" r="5"/><circle class="y" cx="661" cy="30" r="5"/><circle class="y" cx="691" cy="30" r="5"/>
<circle class="b" cx="31" cy="45" r="5"/><circle class="b" cx="91" cy="45" r="5"/><circle class="b" cx="136" cy="45" r="5"/><circle class="b" cx="511" cy="45" r="5"/><circle class="b" cx="616" cy="45" r="5"/>
<circle class="o" cx="451" cy="61" r="5"/><circle class="o" cx="571" cy="61" r="5"/><circle class="o" cx="931" cy="61" r="5"/>
<rect class="ov" x="31" y="0" width="960" height="61"/>
<text class="mn" x="30" y="-7">77</text><text class="mn" x="270" y="-7">78</text><text class="mn" x="510" y="-7">79</text><text class="mn" x="750" y="-7">80</text>
<text class="tp" x="30" y="-20">♩=97</text><text class="tp" x="90" y="-20">♩=103</text><text class="tp" x="210" y="-20">♩=105</text><text class="tp" x="270" y="-20">♩=104</text><text class="tp" x="510" y="-20">♩=101</text><text class="tp" x="645" y="-20">♩=105</text><text class="tp" x="705" y="-20">♩=99</text><text class="tp" x="765" y="-20">♩=104</text><text class="tp" x="810" y="-20">♩=101</text><text class="tp" x="930" y="-20">♩=103</text>
<text class="s1" x="270" y="77">215</text><text class="s2" x="270" y="90">84466</text><text class="s3" x="270" y="103">37.21%</text>
<text class="s1" x="510" y="77">215</text><text class="s2" x="510" y="90">87046</text><text class="s3" x="510" y="103">24.71%</text>
<text class="s1" x="750" y="77">215</text><text class="s2" x="750" y="90">89626</text><text class="s3" x="750" y="103">12.21%</text>
<text class="s1" x="990" y="77">215</text><text class="s2" x="990" y="90">92206</text><text class="s3" x="990" y="103">0.00%</text>
</g>

<g id="row21" transform="translate(0.5,3025.5)">
<use href="#staff"/>
<rect class="g" x="271" y="-3" width="45" height="6"/><rect class="g" x="331" y="-3" width="30" height="6"/><rect class="g" x="751" y="-3" width="135" height="6"/><rect class="r" x="931" y="12" width="30" height="6"/><rect class="b" x="31" y="42" width="45" height="6"/><rect class="b" x="91" y="42" width="30" height="6"/><rect class="b" x="511" y="42" width="45" height="6"/><rect class="b" x="571" y="42" width="30" height="6"/>
<circle class="g" cx="241" cy="0" r="5"/><circle class="g" cx="256" cy="0" r="5"/><circle class="g" cx="271" cy="0" r="5"/><circle class="g" cx="331" cy="0" r="5"/><circle class="g" cx="376" cy="0" r="5"/><circle class="g" cx="406" cy="0" r="5"/><circle class="g" cx="496" cy="0" r="5"/><circle class="g" cx="646" cy="0" r="5"/><circle class="g" cx="751" cy="0" r="5"/><circle class="g" cx="976" cy="0" r="5"/>
<circle class="r" cx="421" cy="15" r="5"/><circle class="r" cx="466" cy="15" r="5"/><circle class="r" cx="721" cy="15" r="5"/><circle class="r" cx="736" cy="15" r="5"/><circle class="r" cx="901" cy="15" r="5"/><circle class="r" cx="931" cy="15" r="5"/>
<circle class="y" cx="211" cy="30" r="5"/><circle class="y" cx="661" cy="30" r="5"/><circle class="y" cx="691" cy="30" r="5"/>
<circle class="b" cx="31" cy="45" r="5"/><circle class="b" cx="91" cy="45" r="5"/><circle class="b" cx="136" cy="45" r="5"/><circle class="b" cx="181" cy="45" r="5"/><circle class="b" cx="511" cy="45" r="5"/><circle class="b" cx="571" cy="45" r="5"/><circle class="b" cx="616" cy="45" r="5"/>
<circle class="o" cx="166" cy="61" r="5"/><circle class="o" cx="451" cy="61" r="5"/>
<rect class="ov" x="31" y="0" width="474" height="61"/><rect class="ac" x="505" y="0" width="6" height="61"/>
<text class="mn" x="30" y="-7">81</text><text class="mn" x="270" y="-7">82</text><text class="mn" x="510" y="-7">83</text><text class="mn" x="750" y="-7">84</text>
<text class="tp" x="75" y="-20">♩=100</text><text class="tp" x="195" y="-20">♩=104</text><text class="tp" x="330" y="-20">♩=99</text><text class="tp" x="435" y="-20">♩=107</text><text class="tp" x="510" y="-20">♩=102</text><text class="tp" x="555" y="-20">♩=101</text><text class="tp" x="855" y="-20">♩=108</text><text class="tp" x="885" y="-20">♩=106</text><text class="tp" x="945" y="-20">♩=101</text>
<text class="s1" x="270" y="77">215</text><text class="s2" x="270" y="90">94786</text><text class="s3" x="270" y="103">0.00%</text>
<text class="s1" x="510" y="77">215</text><text class="s2" x="510" y="90">97366</text><text class="s3" x="510" y="103">0.00%</text>
<text class="s1" x="750" y="77">215</text><text class="s2" x="750" y="90">98806</text><text class="s3" x="750" y="103">0.00%</text>
<text class="s1" x="990" y="77">133</text><text class="s2" x="990" y="90">99604</text><text class="s3" x="990" y="103">0.00%</text>
</g>

<g id="row22" transform="translate(0.5,3166.5)">
<use href="#staff"/>
<rect class="g" x="271" y="-3" width="45" height="6"/><rect class="g" x="331" y="-3" width="30" height="6"/><rect class="g" x="751" y="-3" width="240" height="6"/><rect class="b" x="31" y="42" width="45" height="6"/><rect class="b" x="91" y="42" width="30" height="6"/><rect class="b" x="511" y="42" width="45" height="6"/><rect class="b" x="571" y="42" width="30" height="6"/>
<circle class="g" cx="166" cy="0" r="5"/><circle class="g" cx="241" cy="0" r="5"/><circle class="g" cx="271" cy="0" r="5"/><circle class="g" cx="331" cy="0" r="5"/><circle class="g" cx="376" cy="0" r="5"/><circle class="g" cx="496" cy="0" r="5"/><circle class="g" cx="646" cy="0" r="5"/><circle class="g" cx="721" cy="0" r="5"/><circle class="g" cx="751" cy="0" r="5"/>
<circle class="r" cx="256" cy="15" r="5"/><circle class="r" cx="406" cy="15" r="5"/><circle class="r" cx="421" cy="15" r="5"/><circle class="r" cx="466" cy="15" r="5"/><circle class="r" cx="736" cy="15" r="5"/>
<circle class="y" cx="181" cy="30" r="5"/><circle class="y" cx="211" cy="30" r="5"/><circle class="y" cx="661" cy="30" r="5"/><circle class="y" cx="691" cy="30" r="5"/>
<circle class="b" cx="31" cy="45" r="5"/><circle class="b" cx="91" cy="45" r="5"/><circle class="b" cx="136" cy="45" r="5"/><circle class="b" cx="511" cy="45" r="5"/><circle class="b" cx="571" cy="45" r="5"/><circle class="b" cx="616" cy="45" r="5"/>
<circle class="o" cx="451" cy="61" r="5"/>
<text class="mn" x="30" y="-7">85</text><text class="mn" x="270" y="-7">86</text><text class="mn" x="510" y="-7">87</text><text class="mn" x="750" y="-7">88</text>
<text class="tp" x="105" y="-20">♩=103</text><text class="tp" x="195" y="-20">♩=106</text><text class="tp" x="270" y="-20">♩=104</text><text class="tp" x="390" y="-20">♩=100</text><text class="tp" x="465" y="-20">♩=103</text><text class="tp" x="510" y="-20">♩=100</text><text class="tp" x="675" y="-20">♩=109</text>
<text class="s1" x="270" y="77">215</text><text class="s2" x="270" y="90">100894</text><text class="s3" x="270" y="103">0.00%</text>
<text class="s1" x="510" y="77">215</text><text class="s2" x="510" y="90">102184</text><text class="s3" x="510" y="103">0.00%</text>
<text class="s1" x="750" y="77">215</text><text class="s2" x="750" y="90">103474</text><text class="s3" x="750" y="103">0.00%</text>
<text class="s1" x="990" y="77">73</text><text class="s2" x="990" y="90">103912</text><text class="s3" x="990" y="103">0.00%</text>
</g>
</svg>
